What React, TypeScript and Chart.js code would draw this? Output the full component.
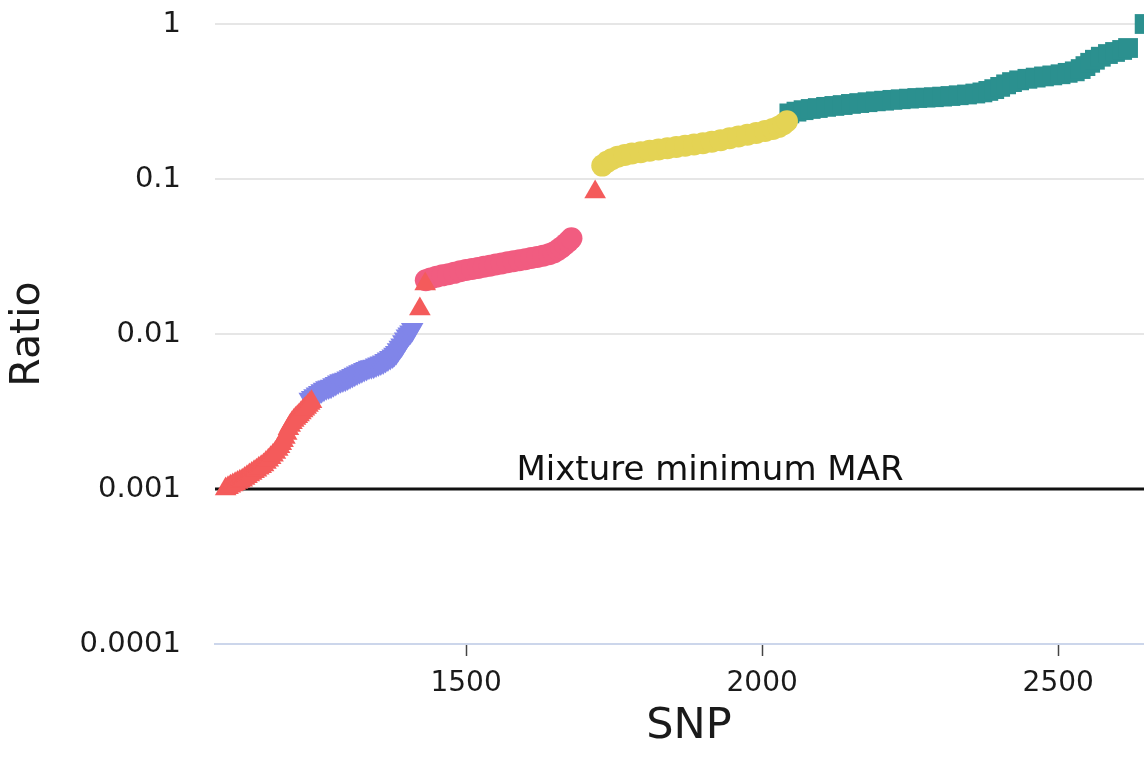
import React, { useEffect, useRef } from "react";
import { Chart, registerables } from "chart.js";

Chart.register(...registerables);

// ---- Data ----
const X_TICKS = [1500, 2000, 2500];
const Y_TICKS = [0.0001, 0.001, 0.01, 0.1, 1];
const X_MIN = 1076;
const X_MAX = 2677;
const Y_MIN = 0.0001;
const Y_MAX = 1;
const MAR_VALUE = 0.001;
const MAR_LABEL = "Mixture minimum MAR";

const redSnp = [1094, 1098, 1102, 1106, 1110, 1114, 1118, 1122, 1126, 1130, 1134, 1138, 1142, 1146, 1150, 1154, 1158, 1162, 1166, 1170, 1174, 1178, 1182, 1185, 1188, 1191, 1194, 1197, 1200, 1203, 1206, 1209, 1212, 1215, 1218, 1221, 1224, 1227, 1230, 1233, 1236, 1239, 1422, 1431, 1718];
const redRatio = [0.001, 0.00102, 0.00104, 0.00106, 0.00108, 0.0011, 0.00112, 0.00114, 0.00117, 0.0012, 0.00123, 0.00126, 0.00129, 0.00132, 0.00136, 0.00139, 0.00143, 0.00148, 0.00153, 0.00159, 0.00165, 0.00172, 0.0018, 0.00187, 0.00196, 0.00205, 0.00215, 0.00228, 0.00245, 0.00257, 0.00268, 0.00277, 0.00285, 0.00293, 0.003, 0.00309, 0.00318, 0.00327, 0.00336, 0.00346, 0.00356, 0.00366, 0.0145, 0.021, 0.0824];

const blueSnp = [1236, 1240, 1244, 1248, 1252, 1256, 1260, 1264, 1268, 1272, 1276, 1280, 1284, 1288, 1292, 1296, 1300, 1304, 1308, 1312, 1316, 1320, 1324, 1328, 1332, 1336, 1340, 1344, 1348, 1352, 1356, 1360, 1364, 1368, 1372, 1376, 1379, 1382, 1385, 1388, 1391, 1394, 1397, 1400, 1403, 1406, 1409];
const blueRatio = [0.0038, 0.0039, 0.004, 0.0041, 0.0042, 0.0043, 0.0044, 0.0045, 0.00455, 0.0046, 0.0047, 0.0048, 0.0049, 0.005, 0.00505, 0.0051, 0.0052, 0.0053, 0.0054, 0.0055, 0.0056, 0.0057, 0.0058, 0.0059, 0.006, 0.0061, 0.00615, 0.0062, 0.0063, 0.0064, 0.0065, 0.0066, 0.00675, 0.0069, 0.00705, 0.0072, 0.0074, 0.0076, 0.0079, 0.0082, 0.0085, 0.0089, 0.0093, 0.0097, 0.01, 0.0103, 0.0107];

const pinkSnp = [1432, 1440, 1450, 1460, 1470, 1480, 1490, 1500, 1510, 1520, 1530, 1540, 1550, 1560, 1570, 1580, 1590, 1600, 1610, 1620, 1630, 1640, 1648, 1655, 1661, 1667, 1673, 1678];
const pinkRatio = [0.0222, 0.0228, 0.0234, 0.0239, 0.0243, 0.0248, 0.0254, 0.0259, 0.0263, 0.0267, 0.0272, 0.0276, 0.0281, 0.0285, 0.029, 0.0295, 0.0299, 0.0304, 0.0309, 0.0314, 0.032, 0.0327, 0.0336, 0.0348, 0.0362, 0.0378, 0.0396, 0.0414];

const yellowSnp = [1730, 1738, 1746, 1756, 1768, 1780, 1795, 1810, 1825, 1840, 1855, 1870, 1885, 1900, 1915, 1930, 1945, 1960, 1975, 1990, 2005, 2018, 2028, 2036, 2042];
const yellowRatio = [0.122, 0.129, 0.134, 0.139, 0.143, 0.146, 0.149, 0.152, 0.155, 0.158, 0.161, 0.164, 0.167, 0.17, 0.174, 0.178, 0.183, 0.188, 0.193, 0.198, 0.204, 0.21, 0.217, 0.226, 0.236];

const tealSnp = [2046, 2058, 2070, 2082, 2094, 2108, 2122, 2136, 2150, 2164, 2178, 2192, 2206, 2220, 2234, 2248, 2262, 2276, 2290, 2304, 2318, 2332, 2346, 2360, 2372, 2382, 2392, 2402, 2412, 2422, 2434, 2448, 2462, 2476, 2490, 2504, 2516, 2528, 2538, 2546, 2554, 2562, 2572, 2584, 2596, 2608, 2618, 2646];
const tealRatio = [0.265, 0.272, 0.278, 0.283, 0.287, 0.292, 0.296, 0.3, 0.305, 0.309, 0.313, 0.317, 0.32, 0.324, 0.327, 0.33, 0.333, 0.335, 0.337, 0.34, 0.343, 0.347, 0.351, 0.356, 0.362, 0.37, 0.38, 0.393, 0.408, 0.422, 0.433, 0.443, 0.451, 0.459, 0.466, 0.474, 0.484, 0.495, 0.512, 0.535, 0.562, 0.588, 0.615, 0.64, 0.66, 0.68, 0.7, 1.0];

const FONT = '"DejaVu Sans", Verdana, sans-serif';
const TEXT = "#1a1a1a";

const pts = (xs: number[], ys: number[]) => xs.map((x, i) => ({ x, y: ys[i] }));

const marLabelPlugin = {
  id: "marLabel",
  afterDatasetsDraw(chart: any) {
    const { ctx, chartArea, scales } = chart;
    const y = scales.y.getPixelForValue(MAR_VALUE);
    ctx.save();
    ctx.font = `34px ${FONT}`;
    ctx.fillStyle = "#111";
    ctx.textAlign = "center";
    ctx.textBaseline = "alphabetic";
    ctx.fillText(MAR_LABEL, chartArea.left + 495, y - 9);
    ctx.restore();
  },
};

export default function App() {
  const ref = useRef<HTMLCanvasElement | null>(null);

  useEffect(() => {
    if (!ref.current) return;
    const chart = new Chart(ref.current, {
      type: "scatter",
      data: {
        datasets: [
          {
            label: "red",
            data: pts(redSnp, redRatio),
            backgroundColor: "#f45b5b",
            borderColor: "#f45b5b",
            pointStyle: "triangle",
            pointRadius: 12.5,
            pointBorderWidth: 0,
            clip: false,
          },
          {
            label: "blue",
            data: pts(blueSnp, blueRatio),
            backgroundColor: "#8085e9",
            borderColor: "#8085e9",
            pointStyle: "triangle",
            rotation: 180,
            pointRadius: 13,
            pointBorderWidth: 0,
            clip: false,
          },
          {
            label: "pink",
            data: pts(pinkSnp, pinkRatio),
            backgroundColor: "#f15c80",
            borderColor: "#f15c80",
            pointStyle: "circle",
            pointRadius: 11,
            pointBorderWidth: 0,
            clip: false,
          },
          {
            label: "yellow",
            data: pts(yellowSnp, yellowRatio),
            backgroundColor: "#e4d354",
            borderColor: "#e4d354",
            pointStyle: "circle",
            pointRadius: 11,
            pointBorderWidth: 0,
            clip: false,
          },
          {
            label: "teal",
            data: pts(tealSnp, tealRatio),
            backgroundColor: "#2b908f",
            borderColor: "#2b908f",
            pointStyle: "rect",
            pointRadius: 14,
            pointBorderWidth: 0,
            clip: false,
          },
          {
            label: MAR_LABEL,
            data: [
              { x: X_MIN, y: MAR_VALUE },
              { x: X_MAX, y: MAR_VALUE },
            ],
            showLine: true,
            borderColor: "#111",
            borderWidth: 3,
            pointRadius: 0,
          } as any,
        ],
      },
      options: {
        responsive: false,
        maintainAspectRatio: false,
        devicePixelRatio: 1,
        animation: false,
        layout: { padding: { top: 24, left: 0, right: 0, bottom: 0 }, autoPadding: false },
        plugins: {
          legend: { display: false },
          tooltip: { enabled: false },
        },
        scales: {
          x: {
            type: "linear",
            min: X_MIN,
            max: X_MAX,
            afterBuildTicks: (s: any) => {
              s.ticks = X_TICKS.map((v) => ({ value: v }));
            },
            afterFit: (s: any) => {
              s.height = 113;
              s.paddingLeft = 0;
              s.paddingRight = 0;
            },
            ticks: {
              callback: (v: any) => String(v),
              font: { family: FONT, size: 28 },
              color: TEXT,
              padding: 11,
              maxRotation: 0,
              autoSkip: false,
            },
            grid: {
              drawOnChartArea: false,
              drawTicks: true,
              tickLength: 12,
              tickColor: "#444",
              tickWidth: 1.5,
            },
            border: { display: true, color: "#ccd6eb", width: 2 },
            title: {
              display: true,
              text: "SNP",
              font: { family: FONT, size: 43 },
              color: TEXT,
              padding: { top: 0, bottom: 4 },
            },
          },
          y: {
            type: "logarithmic",
            min: Y_MIN,
            max: Y_MAX,
            afterBuildTicks: (s: any) => {
              s.ticks = Y_TICKS.map((v) => ({ value: v }));
            },
            afterFit: (s: any) => {
              s.width = 215;
              s.paddingTop = 0;
              s.paddingBottom = 0;
            },
            ticks: {
              callback: (v: any) => String(v),
              font: { family: FONT, size: 29 },
              color: TEXT,
              padding: 34,
              autoSkip: false,
            },
            grid: { color: "#e6e6e6", lineWidth: 2, drawTicks: false },
            border: { display: false },
            title: {
              display: true,
              text: "Ratio",
              font: { family: FONT, size: 41 },
              color: TEXT,
              padding: { top: 4, bottom: 0 },
            },
          },
        },
      },
      plugins: [marLabelPlugin],
    } as any);
    return () => chart.destroy();
  }, []);

  return (
    <div style={{ position: "fixed", left: 0, top: 0, width: 1144, height: 757, overflow: "hidden", background: "#fff" }}>
      <canvas ref={ref} width={1163} height={757} style={{ display: "block" }} />
    </div>
  );
}
